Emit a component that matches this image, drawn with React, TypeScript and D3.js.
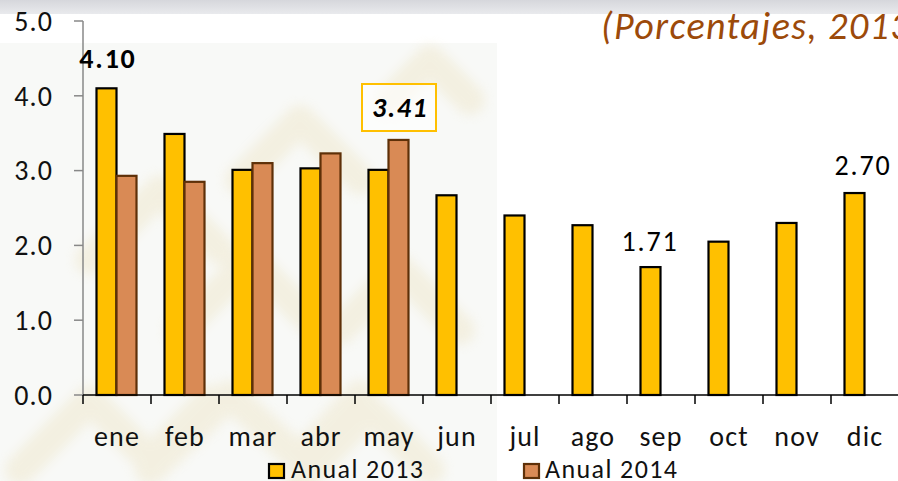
import React from "react";
import * as d3 from "d3";

const months = ["ene", "feb", "mar", "abr", "may", "jun", "jul", "ago", "sep", "oct", "nov", "dic"];
const anual2013 = [4.1, 3.49, 3.01, 3.03, 3.01, 2.67, 2.4, 2.27, 1.71, 2.05, 2.3, 2.7];
const anual2014 = [2.93, 2.85, 3.1, 3.23, 3.41];
const yTicks = [0, 1, 2, 3, 4, 5];
const seriesNames = ["Anual 2013", "Anual 2014"];

const W = 898, H = 481;
const font = "Carlito, 'Open Sans', 'Liberation Sans', sans-serif";

export default function App() {
  const x = d3.scaleBand<string>().domain(months).range([83, 899]);
  const y = d3.scaleLinear().domain([0, 5]).range([395, 21]);
  const barW = 20;
  const c13 = "#FFC000";
  const c14 = "#D98A55";
  const cx = (m: string) => x(m)! + x.bandwidth() / 2;

  const watermark = [
    "M20,470 L90,400 L150,460 L210,400",
    "M150,470 L230,395 L300,460 L360,395",
    "M300,480 L370,410 L430,470",
    "M180,330 L250,260 L310,320",
    "M340,330 L400,270 L460,330",
    "M90,260 L160,190 L220,250",
    "M240,180 L300,120 L360,180",
    "M390,100 L430,60 L470,100",
  ];

  return (
    <svg width={W} height={H} style={{ position: "absolute", left: 0, top: 0, display: "block" }}>
      <defs>
        <linearGradient id="band" x1="0" y1="0" x2="0" y2="1">
          <stop offset="0" stopColor="#d6d7dc" />
          <stop offset="1" stopColor="#e9eaed" />
        </linearGradient>
        <filter id="blur"><feGaussianBlur stdDeviation="6" /></filter>
      </defs>
      <rect x={0} y={0} width={W} height={H} fill="#ffffff" />
      <rect x={0} y={0} width={W} height={14} fill="url(#band)" />
      <rect x={0} y={43} width={497} height={H - 43} fill="#f8f9f7" />
      <g fill="none" stroke="#ece2c0" strokeWidth={30} strokeLinecap="round" strokeLinejoin="round" opacity={0.4} filter="url(#blur)">
        {watermark.map((d, i) => <path key={i} d={d} />)}
      </g>

      <text x={601} y={39} fontFamily={font} fontStyle="italic" fontSize={38} letterSpacing={1.4} fill="#9C4A0A">(Porcentajes, 2013-2014)</text>

      {/* y axis */}
      <line x1={83} x2={83} y1={21} y2={395} stroke="#888" strokeWidth={1.5} />
      {yTicks.map((t) => (
        <g key={t}>
          <line x1={74} x2={83} y1={y(t)} y2={y(t)} stroke="#888" strokeWidth={1.5} />
          <text x={53} y={y(t)} dy="0.35em" textAnchor="end" fontFamily={font} fontSize={28} letterSpacing={1.1} fill="#111">{t.toFixed(1)}</text>
        </g>
      ))}

      {/* bars */}
      {months.map((m, i) => (
        <g key={m}>
          <rect x={cx(m) - barW - 0.5} y={y(anual2013[i])} width={barW} height={y(0) - y(anual2013[i])} fill={c13} stroke="#000" strokeWidth={2.2} />
          {i < anual2014.length && (
            <rect x={cx(m) - 0.5} y={y(anual2014[i])} width={barW} height={y(0) - y(anual2014[i])} fill={c14} stroke="#5e3008" strokeWidth={2.2} />
          )}
        </g>
      ))}

      {/* x axis */}
      <line x1={83} x2={899} y1={395} y2={395} stroke="#000" strokeWidth={1.5} />
      {months.map((m) => (
        <line key={m} x1={x(m)!} x2={x(m)!} y1={395} y2={404} stroke="#000" strokeWidth={1.5} />
      ))}
      {months.map((m) => (
        <text key={m} x={cx(m)} y={446} textAnchor="middle" fontFamily={font} fontSize={28} letterSpacing={1.1} fill="#111">{m}</text>
      ))}

      {/* data labels */}
      <text x={cx("ene") - 9} y={y(anual2013[0]) - 20} textAnchor="middle" fontFamily={font} fontWeight="bold" fontSize={28} letterSpacing={1.8} fill="#000">{anual2013[0].toFixed(2)}</text>
      <rect x={362} y={84} width={74} height={47} fill="#fff" fillOpacity={0.6} stroke="#FFC000" strokeWidth={2} />
      <text x={400} y={117} textAnchor="middle" fontFamily={font} fontWeight="bold" fontStyle="italic" fontSize={28} letterSpacing={1.5} fill="#000">{anual2014[4].toFixed(2)}</text>
      <text x={cx("sep") - 11} y={y(anual2013[8]) - 16} textAnchor="middle" fontFamily={font} fontSize={28} letterSpacing={1.8} fill="#000">{anual2013[8].toFixed(2)}</text>
      <text x={cx("dic") - 2} y={y(anual2013[11]) - 18} textAnchor="middle" fontFamily={font} fontSize={28} letterSpacing={1.8} fill="#000">{anual2013[11].toFixed(2)}</text>

      {/* legend */}
      <rect x={269} y={464} width={15} height={14} fill={c13} stroke="#000" strokeWidth={2.2} />
      <text x={291} y={478} fontFamily={font} fontSize={26} letterSpacing={1.4} fill="#111">{seriesNames[0]}</text>
      <rect x={524} y={464} width={15} height={14} fill={c14} stroke="#5e3008" strokeWidth={2.2} />
      <text x={545} y={478} fontFamily={font} fontSize={26} letterSpacing={1.4} fill="#111">{seriesNames[1]}</text>
    </svg>
  );
}
